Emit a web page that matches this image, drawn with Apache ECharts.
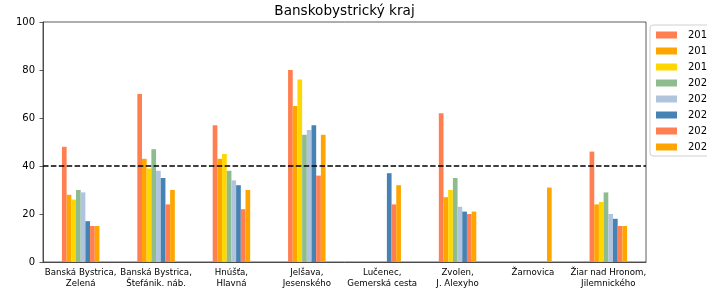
<!DOCTYPE html>
<html>
<head>
<meta charset="utf-8">
<script src="https://cdn.jsdelivr.net/npm/echarts@6/dist/echarts.min.js"></script>
<style>html,body{margin:0;padding:0;background:#fff;}#c{width:707px;height:292px;}</style>
</head>
<body>
<div id="c"></div>
<script>
var categories = ["Banská Bystrica,\nZelená", "Banská Bystrica,\nŠtefánik. náb.", "Hnúšťa,\nHlavná", "Jelšava,\nJesenského", "Lučenec,\nGemerská cesta", "Zvolen,\nJ. Alexyho", "Žarnovica", "Žiar nad Hronom,\nJilemnického"];
var years = ["2017", "2018", "2019", "2020", "2021", "2022", "2023", "2024"];
var colors = ["#FF7F50", "#FFA500", "#FFD700", "#8FBC8F", "#B0C4DE", "#4682B4", "#FF7F50", "#FFA500"];
var s2017 = [48, 70, 57, 80, null, 62, null, 46];
var s2018 = [28, 43, 43, 65, null, 27, null, 24];
var s2019 = [26, 39, 45, 76, null, 30, null, 25];
var s2020 = [30, 47, 38, 53, null, 35, null, 29];
var s2021 = [29, 38, 34, 55, null, 23, null, 20];
var s2022 = [17, 35, 32, 57, 37, 21, null, 18];
var s2023 = [15, 24, 22, 36, 24, 20, null, 15];
var s2024 = [15, 30, 30, 53, 32, 21, 31, 15];
var yTicks = [0, 20, 40, 60, 80, 100];
var limitValue = 40;

var seriesValues = [s2017, s2018, s2019, s2020, s2021, s2022, s2023, s2024];
var font = "DejaVu Sans";
var series = seriesValues.map(function (vals, i) {
  var s = {
    name: years[i],
    type: "bar",
    data: vals,
    barWidth: 4.6875,
    barGap: "0%",
    itemStyle: { color: colors[i] },
    emphasis: { disabled: true }
  };
  if (i === 0) {
    s.markLine = {
      silent: true,
      symbol: ["none", "none"],
      label: { show: false },
      lineStyle: { color: "#000", width: 1.5, type: [5.5, 2.4] },
      data: [{ yAxis: limitValue }]
    };
  }
  return s;
});

var chart = echarts.init(document.getElementById("c"), null, { renderer: "canvas" });
chart.setOption({
  animation: false,
  color: colors,
  title: {
    text: "Banskobystrický kraj",
    left: 344.5,
    textAlign: "center",
    top: 4,
    padding: 0,
    textStyle: { fontFamily: font, fontSize: 13.6, fontWeight: "normal", color: "#000" }
  },
  legend: {
    orient: "vertical",
    left: 650,
    top: 25,
    padding: [5, 6, 4, 6],
    itemWidth: 21,
    itemHeight: 7,
    itemGap: 6,
    icon: "rect",
    borderColor: "#d0d0d0",
    borderWidth: 1,
    borderRadius: 3,
    backgroundColor: "rgba(255,255,255,0.8)",
    data: years,
    textStyle: { fontFamily: font, fontSize: 10, lineHeight: 10, color: "#000", padding: [0, 0, 0, 6] }
  },
  grid: {
    left: 43, right: 61, top: 22, bottom: 30,
    show: true, borderColor: "#333", borderWidth: 0.8, backgroundColor: "transparent"
  },
  xAxis: {
    type: "category",
    data: categories,
    boundaryGap: true,
    axisLine: { lineStyle: { color: "#333", width: 0.8 } },
    axisTick: { alignWithLabel: true, length: 3.5, lineStyle: { color: "#333", width: 0.8 } },
    axisLabel: { interval: 0, margin: 6, fontFamily: font, fontSize: 8.65, lineHeight: 10.5, color: "#000", align: "center" }
  },
  yAxis: {
    type: "value",
    min: 0, max: 100, interval: 20,
    splitLine: { show: false },
    axisLine: { show: true, lineStyle: { color: "#333", width: 0.8 } },
    axisTick: { show: true, length: 3.5, lineStyle: { color: "#333", width: 0.8 } },
    axisLabel: {
      margin: 8, fontFamily: font, fontSize: 10, color: "#000",
      formatter: function (v) { return yTicks.indexOf(v) >= 0 ? String(v) : ""; }
    }
  },
  series: series
});
</script>
</body>
</html>
